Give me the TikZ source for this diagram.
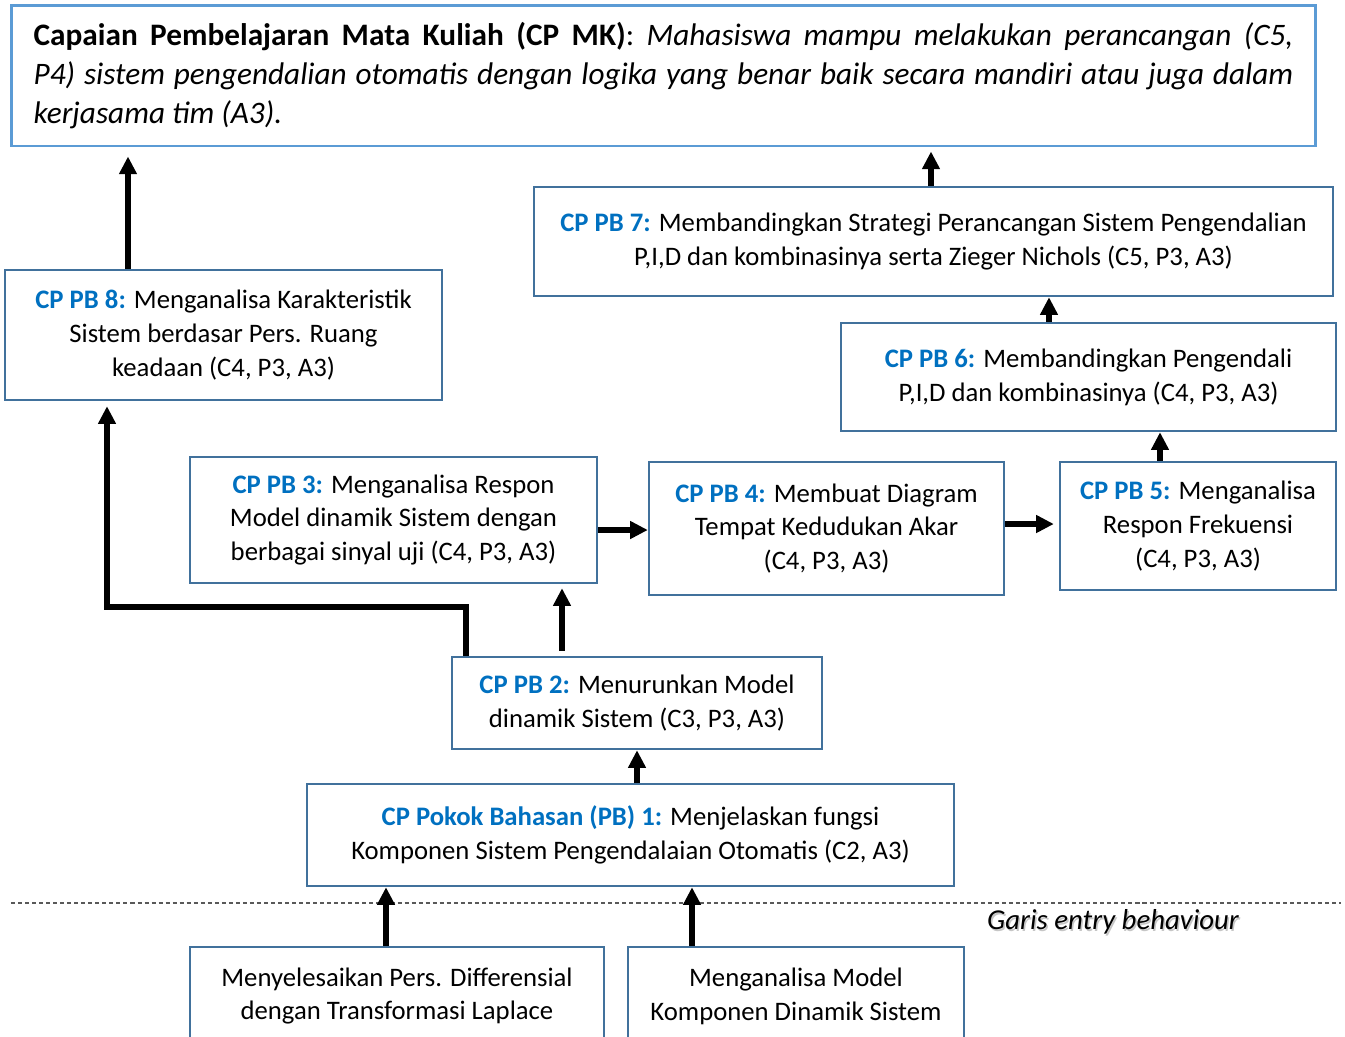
\documentclass[tikz,border=0pt]{standalone}
\usepackage{fontspec}
\setmainfont{Carlito}
\usetikzlibrary{arrows.meta,positioning}
\definecolor{mkblue}{RGB}{91,155,213}
\definecolor{boxblue}{RGB}{65,113,156}
\definecolor{pbblue}{RGB}{0,112,192}
\newcommand{\pbl}[1]{\textbf{\color{pbblue}#1}}

\begin{document}
\begin{tikzpicture}[x=0.02cm,y=-0.02cm,
  pbbox/.style={draw=boxblue,line width=1.4pt,align=center,inner sep=0pt,
    font=\fontsize{15.2}{19.3}\selectfont},
  arr/.style={line width=2.9pt,-{Triangle[length=10pt,width=9.6pt]}}]
\useasboundingbox (0,0) rectangle (1345,1036);
\clip (0,0) rectangle (1345,1036);
% CP MK (top)
\node[draw=mkblue,line width=1.7pt,text width=25.2cm,align=justify,inner xsep=0.44cm,
  minimum height=2.82cm,font=\fontsize{17.8}{22.1}\selectfont] (mk) at (663.5,75.5)
  {\textbf{Capaian Pembelajaran Mata Kuliah (CP MK)}: \textit{Mahasiswa mampu melakukan perancangan (C5,\linebreak
  P4) sistem pengendalian otomatis dengan logika yang benar baik secara mandiri atau juga dalam\linebreak
  kerjasama tim (A3).}};
% pokok bahasan boxes
\node[pbbox,minimum width=8.74cm,minimum height=2.6cm] (pb8) at (223.5,335)
  {\pbl{CP PB 8:} Menganalisa Karakteristik\\ Sistem berdasar Pers. Ruang\\ keadaan (C4, P3, A3)};
\node[pbbox,minimum width=15.98cm,minimum height=2.18cm] (pb7) at (933.5,241.5)
  {\pbl{CP PB 7:} Membandingkan Strategi Perancangan Sistem Pengendalian\\ P,I,D dan kombinasinya serta Zieger Nichols (C5, P3, A3)};
\node[pbbox,minimum width=9.9cm,minimum height=2.16cm] (pb6) at (1088.5,377)
  {\pbl{CP PB 6:} Membandingkan Pengendali\\ P,I,D dan kombinasinya (C4, P3, A3)};
\node[pbbox,minimum width=8.14cm,minimum height=2.52cm] (pb3) at (393.5,520)
  {\pbl{CP PB 3:} Menganalisa Respon\\ Model dinamik Sistem dengan\\ berbagai sinyal uji (C4, P3, A3)};
\node[pbbox,minimum width=7.1cm,minimum height=2.66cm] (pb4) at (826.5,528.5)
  {\pbl{CP PB 4:} Membuat Diagram\\ Tempat Kedudukan Akar\\ (C4, P3, A3)};
\node[pbbox,minimum width=5.52cm,minimum height=2.56cm] (pb5) at (1198,526)
  {\pbl{CP PB 5:} Menganalisa\\ Respon Frekuensi\\ (C4, P3, A3)};
\node[pbbox,minimum width=7.4cm,minimum height=1.84cm] (pb2) at (637,703)
  {\pbl{CP PB 2:} Menurunkan Model\\ dinamik Sistem (C3, P3, A3)};
\node[pbbox,minimum width=12.94cm,minimum height=2.04cm] (pb1) at (630.5,835)
  {\pbl{CP Pokok Bahasan (PB) 1:} Menjelaskan fungsi\\ Komponen Sistem Pengendalaian Otomatis (C2, A3)};
% entry behaviour
\coordinate (dl) at (11,903);
\coordinate (dr) at (1341,903);
\draw[gray!70!black,line width=0.6pt,dash pattern=on 2.3pt off 1.7pt] (dl) -- (dr);
\node[gray!45,font=\fontsize{16.4}{20}\itshape] (garisbg) at (1114.5,923.5) {Garis entry behaviour};
\node[font=\fontsize{16.4}{20}\itshape] (garis) at (1113,922) {Garis entry behaviour};
\node[pbbox,minimum width=8.28cm,minimum height=1.96cm] (lap) at (397,996)
  {Menyelesaikan Pers. Differensial\\ dengan Transformasi Laplace};
\node[pbbox,minimum width=6.72cm,minimum height=1.96cm] (kom) at (796,996)
  {Menganalisa Model\\ Komponen Dinamik Sistem};
% arrows
\coordinate (x8) at (128,0);
\coordinate (x7) at (931,0);
\coordinate (x6) at (1049,0);
\coordinate (x5) at (1160,0);
\coordinate (y3) at (0,530);
\coordinate (y4) at (0,524);
\coordinate (x2) at (562,0);
\coordinate (turn) at (466,607);
\coordinate (x8b) at (107,0);
\coordinate (x1) at (637,0);
\coordinate (xl) at (386,0);
\coordinate (xk) at (692,0);
\draw[arr,shorten >=0.18cm] (pb8.north -| x8) -- (mk.south -| x8);
\draw[arr,shorten >=0.08cm] (pb7.north -| x7) -- (mk.south -| x7);
\draw[arr] (pb6.north -| x6) -- (pb7.south -| x6);
\draw[arr] (pb5.north -| x5) -- (pb6.south -| x5);
\draw[arr] (pb3.east |- y3) -- (pb4.west |- y3);
\draw[arr,shorten >=0.1cm] (pb4.east |- y4) -- (pb5.west |- y4);
\draw[arr,shorten <=0.1cm,shorten >=0.08cm] (pb2.north -| x2) -- (pb3.south -| x2);
\draw[arr,shorten >=0.1cm] (pb2.north -| turn) -- (turn) -| (pb8.south -| x8b);
\draw[arr] (pb1.north -| x1) -- (pb2.south -| x1);
\draw[arr] (lap.north -| xl) -- (pb1.south -| xl);
\draw[arr] (kom.north -| xk) -- (pb1.south -| xk);
\end{tikzpicture}
\end{document}
